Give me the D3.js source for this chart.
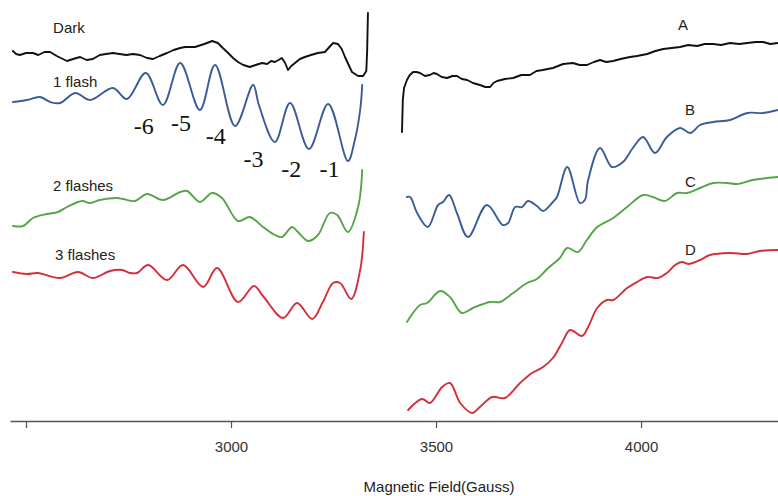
<!DOCTYPE html>
<html><head><meta charset="utf-8">
<script src="https://cdn.jsdelivr.net/npm/d3@7"></script>
<style>
html,body{margin:0;padding:0;background:#fff;}
svg{display:block;}
</style></head>
<body>
<svg id="chart" width="778" height="496"></svg>
<script>
// ---- data (field in Gauss, intensity in arbitrary units) ----
const fieldTicks = [2500, 3000, 3500, 4000];
const tickLabels = ["", "3000", "3500", "4000"];
const axisTitle = "Magnetic Field(Gauss)";

const darkLeft = [[2468,370],[2476,367],[2485,366],[2500,368],[2517,368],[2530,366],[2545,369],[2559,369],[2575,365],[2590,362],[2600,360],[2615,362],[2632,364],[2648,361],[2663,362],[2680,366],[2695,367],[2712,368],[2728,367],[2745,366],[2761,367],[2778,366],[2795,363],[2810,362],[2826,365],[2844,368],[2860,371],[2876,373],[2888,374],[2912,374],[2935,377],[2954,380],[2968,378],[2980,373],[2993,368],[3005,363],[3017,359],[3030,356],[3046,354],[3060,356],[3076,358],[3088,357],[3098,360],[3107,359],[3116,361],[3124,363],[3132,358],[3139,351],[3147,355],[3156,358],[3168,362],[3180,364],[3195,366],[3212,368],[3229,369],[3240,374],[3249,378],[3261,377],[3270,372],[3278,364],[3287,356],[3295,349],[3310,345],[3322,345],[3330,350],[3332,370],[3334,408]];
const traceA = [[3417,289],[3419,321],[3422,333],[3429,341],[3436,346],[3444,349],[3452,349],[3461,348],[3473,345],[3485,346],[3494,348],[3502,347],[3514,344],[3527,343],[3540,345],[3551,345],[3563,342],[3576,341],[3590,338],[3607,336],[3620,334],[3632,334],[3640,338],[3649,340],[3668,342],[3688,343],[3708,346],[3729,346],[3745,350],[3760,351],[3785,353],[3810,357],[3834,358],[3850,356],[3868,356],[3885,359],[3900,361],[3915,359],[3932,360],[3950,362],[3973,364],[3990,365],[4015,367],[4035,370],[4054,372],[4075,373],[4095,374],[4115,376],[4137,375],[4155,377],[4176,377],[4195,376],[4217,378],[4240,377],[4259,378],[4280,379],[4298,379],[4315,377],[4334,378]];

const flash1Left = [[2468,319],[2502,321],[2534,324],[2559,319],[2583,318],[2620,328],[2656,321],[2712,333],[2746,322],[2792,348],[2834,316],[2876,358],[2924,311],[2961,356],[3010,295],[3054,336],[3068,316],[3107,279],[3144,318],[3190,272],[3237,317],[3285,260],[3302,281],[3315,311],[3320,336]];
const traceB = [[3429,224],[3437,224],[3454,208],[3480,194],[3505,216],[3517,219],[3532,226],[3551,208],[3578,184],[3624,216],[3663,196],[3676,198],[3693,214],[3710,214],[3724,220],[3746,215],[3761,210],[3785,219],[3795,224],[3820,254],[3851,218],[3863,221],[3871,241],[3900,273],[3929,254],[3956,259],[3980,273],[4005,284],[4034,268],[4063,284],[4095,293],[4120,288],[4144,296],[4176,299],[4217,301],[4259,308],[4298,308],[4334,311]];

const flash2Left = [[2468,195],[2493,195],[2517,203],[2551,207],[2578,209],[2600,214],[2637,220],[2656,218],[2680,221],[2722,223],[2737,222],[2766,220],[2795,227],[2834,221],[2876,229],[2893,230],[2924,219],[2954,228],[2978,223],[3017,200],[3046,204],[3078,194],[3107,186],[3124,184],[3149,194],[3163,189],[3188,180],[3212,186],[3241,208],[3259,206],[3285,189],[3310,214],[3320,251]];
const traceC = [[3429,99],[3461,116],[3478,118],[3510,130],[3534,124],[3563,108],[3590,113],[3632,119],[3656,119],[3688,128],[3722,138],[3746,142],[3771,152],[3802,163],[3820,173],[3846,169],[3868,181],[3893,194],[3932,203],[3966,214],[4005,226],[4029,224],[4058,220],[4088,228],[4112,228],[4144,233],[4176,238],[4210,238],[4234,237],[4273,241],[4334,244]];

const flash3Left = [[2468,149],[2502,147],[2529,148],[2583,143],[2627,149],[2663,143],[2705,150],[2734,151],[2754,148],[2771,148],[2798,156],[2844,141],[2883,156],[2932,134],[2966,153],[3017,119],[3056,135],[3078,125],[3127,103],[3161,118],[3198,102],[3224,119],[3249,138],[3266,138],[3293,122],[3315,151],[3324,189]];
const traceD = [[3432,11],[3466,22],[3485,18],[3515,34],[3534,38],[3559,18],[3588,8],[3607,14],[3637,24],[3668,23],[3705,38],[3734,48],[3761,54],[3785,63],[3807,78],[3827,91],[3856,85],[3871,94],[3893,113],[3917,121],[3932,121],[3966,133],[3990,139],[4015,144],[4041,143],[4063,148],[4083,156],[4100,159],[4115,157],[4144,161],[4168,166],[4217,168],[4259,167],[4290,170],[4334,171]];

const seriesNames = ["Dark", "1 flash", "2 flashes", "3 flashes"];
const seriesLetters = ["A", "B", "C", "D"];
// label anchor (field, intensity) for series names and letters
const nameAnchors = [[2566,388],[2566,334],[2566,230],[2571,161]];
const letterAnchors = [[4090,391],[4107,306],[4107,234],[4107,166]];

const lineLabels = ["-6","-5","-4","-3","-2","-1"];
const lineLabelAnchors = [[2787,287],[2878,290],[2963,277],[3055,254],[3147,244],[3240,244]];

// ---- layout ----
const svg = d3.select("#chart");
const x = d3.scaleLinear().domain([2461, 4334]).range([10, 778]);
const y = d3.scaleLinear().domain([0, 410]).range([421, 11]);

const colors = ["#111111", "#3b5b98", "#55a447", "#d22f3b"];
const lineSmooth = d3.line().x(d => x(d[0])).y(d => y(d[1])).curve(d3.curveCatmullRom.alpha(0.5));
const lineRough = d3.line().x(d => x(d[0])).y(d => y(d[1])).curve(d3.curveLinear);

const groups = [
  {data:[darkLeft, traceA], gen: lineRough},
  {data:[flash1Left, traceB], gen: lineSmooth},
  {data:[flash2Left, traceC], gen: lineSmooth},
  {data:[flash3Left, traceD], gen: lineSmooth}
];

groups.forEach((g, i) => {
  g.data.forEach(d => {
    svg.append("path").attr("d", g.gen(d))
      .attr("fill", "none").attr("stroke", colors[i])
      .attr("stroke-width", 1.9).attr("stroke-linejoin", "round").attr("stroke-linecap", "round");
  });
});

// axis
const axis = d3.axisBottom(x).tickValues(fieldTicks)
  .tickFormat((d, i) => tickLabels[i]).tickSize(7).tickSizeOuter(0).tickPadding(13);
const ag = svg.append("g").attr("transform", "translate(0,421)").call(axis);
ag.select(".domain").attr("stroke", "#555").attr("stroke-width", 1.3);
ag.selectAll(".tick line").attr("stroke", "#555").attr("stroke-width", 1.2);
ag.selectAll(".tick text").attr("font-family", "Liberation Sans, Arial, sans-serif")
  .attr("font-size", 15).attr("fill", "#333");

svg.append("text").attr("x", 439).attr("y", 492).attr("text-anchor", "middle")
  .attr("font-family", "Liberation Sans, Arial, sans-serif").attr("font-size", 15)
  .attr("fill", "#222").text(axisTitle);

// series names
seriesNames.forEach((n, i) => {
  svg.append("text").attr("x", x(nameAnchors[i][0])).attr("y", y(nameAnchors[i][1]))
    .attr("font-family", "Liberation Sans, Arial, sans-serif").attr("font-size", 15)
    .attr("fill", "#222").text(n);
});
seriesLetters.forEach((n, i) => {
  svg.append("text").attr("x", x(letterAnchors[i][0])).attr("y", y(letterAnchors[i][1]))
    .attr("font-family", "Liberation Sans, Arial, sans-serif").attr("font-size", 15)
    .attr("fill", "#222").text(n);
});
// hyperfine line labels
lineLabels.forEach((n, i) => {
  svg.append("text").attr("x", x(lineLabelAnchors[i][0])).attr("y", y(lineLabelAnchors[i][1]))
    .attr("text-anchor", "middle")
    .attr("font-family", "Liberation Serif, Times New Roman, serif").attr("font-size", 24)
    .attr("fill", "#111").text(n);
});
</script>
</body></html>
